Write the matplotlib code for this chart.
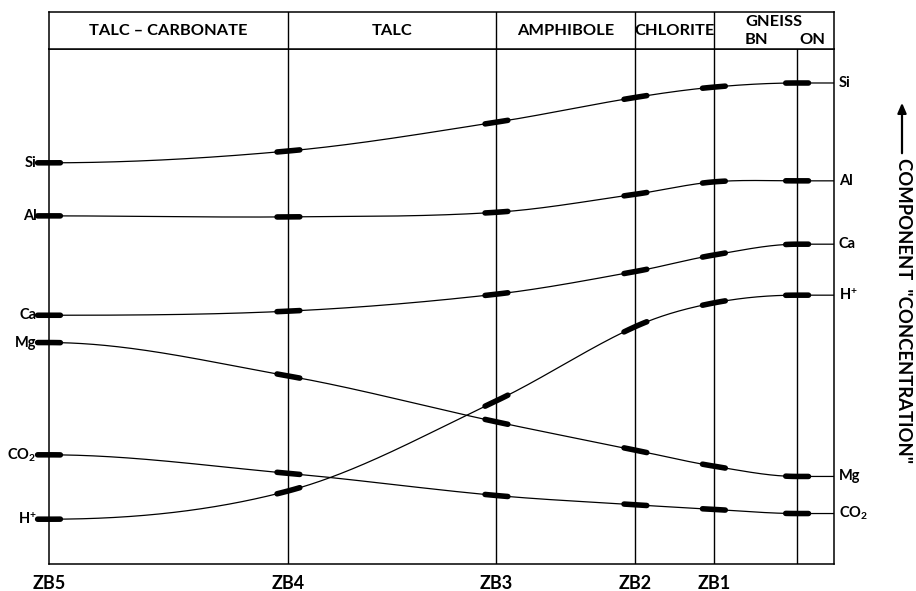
import numpy as np
import matplotlib
matplotlib.use("Agg")
import matplotlib.pyplot as plt

# ---------------- data ----------------
zones = ["ZB5", "ZB4", "ZB3", "ZB2", "ZB1", "ON"]
zone_pos = [0.0, 30.5, 57.0, 74.7, 84.7, 95.3]   # relative distance along profile

components = ["Si", "Al", "Ca", "Mg", "CO2", "H+"]
si = [77.9, 80.2, 85.8, 90.6, 92.6, 93.4]
al = [67.6, 67.4, 68.3, 71.8, 74.2, 74.4]
ca = [48.3, 49.1, 52.4, 56.8, 60.0, 62.1]
mg = [43.0, 36.5, 27.6, 22.1, 19.0, 17.0]
co2 = [21.2, 17.6, 13.3, 11.5, 10.6, 9.8]
hplus = [8.7, 14.2, 31.7, 46.1, 50.7, 52.2]

left_labels = ["Si", "Al", "Ca", "Mg", "CO$_2$", "H$^{+}$"]
right_labels = ["Si", "Al", "Ca", "Mg", "CO$_2$", "H$^{+}$"]

header_zones = ["TALC – CARBONATE", "TALC", "AMPHIBOLE", "CHLORITE"]
gneiss_label = "GNEISS"
gneiss_sub = ["BN", "ON"]
ylabel = "COMPONENT  \"CONCENTRATION\""

series = [si, al, ca, mg, co2, hplus]

# ---------------- helpers ----------------
def make_curve(xs, ys):
    xs = np.asarray(xs, float)
    ys = np.asarray(ys, float)
    n = len(xs)
    m = np.zeros(n)
    for i in range(1, n - 1):
        m[i] = (ys[i + 1] - ys[i - 1]) / (xs[i + 1] - xs[i - 1])

    def f(x):
        x = np.atleast_1d(np.asarray(x, float))
        out = np.empty_like(x)
        for k, xv in enumerate(x):
            if xv <= xs[0]:
                out[k] = ys[0]
                continue
            if xv >= xs[-1]:
                out[k] = ys[-1]
                continue
            i = np.searchsorted(xs, xv) - 1
            h = xs[i + 1] - xs[i]
            t = (xv - xs[i]) / h
            h00 = 2 * t**3 - 3 * t**2 + 1
            h10 = t**3 - 2 * t**2 + t
            h01 = -2 * t**3 + 3 * t**2
            h11 = t**3 - t**2
            out[k] = h00 * ys[i] + h10 * h * m[i] + h01 * ys[i + 1] + h11 * h * m[i + 1]
        return out
    return f

FONT = ["Lato", "DejaVu Sans"]
plt.rcParams["font.family"] = FONT
plt.rcParams["mathtext.fontset"] = "custom"
plt.rcParams["mathtext.rm"] = "Lato:bold"
plt.rcParams["mathtext.it"] = "Lato:bold"
plt.rcParams["mathtext.bf"] = "Lato:bold"

W, H = 916, 591
fig = plt.figure(figsize=(W / 100, H / 100), dpi=100)

xl, xr, yb, yt, yh = 49, 834, 564, 49, 12
ax = fig.add_axes([xl / W, 1 - yb / H, (xr - xl) / W, (yb - yt) / H])
hx = fig.add_axes([xl / W, 1 - yt / H, (xr - xl) / W, (yt - yh) / H])

for a in (ax, hx):
    a.set_xlim(0, 100)
    a.set_xticks([])
    a.set_yticks([])
    for s in a.spines.values():
        s.set_linewidth(1.1)
        s.set_color("black")
ax.set_ylim(0, 100)
hx.set_ylim(0, 1)

LW_V = 1.0
for xp in zone_pos[1:]:
    ax.axvline(xp, color="black", lw=LW_V, zorder=1)
for xp in zone_pos[1:5]:
    hx.axvline(xp, color="black", lw=LW_V)

# curves
h = 1.45
for ys, ll, rl in zip(series, left_labels, right_labels):
    f = make_curve(zone_pos, ys)
    xx = np.linspace(0, 100, 800)
    ax.plot(xx, f(xx), color="black", lw=0.9, zorder=2, solid_capstyle="butt")
    for xp in zone_pos:
        seg = np.linspace(xp - h, xp + h, 30)
        ax.plot(seg, f(seg), color="black", lw=4.0, solid_capstyle="round",
                zorder=3, clip_on=False)
    ax.text(-1.6, ys[0], ll, ha="right", va="center", fontsize=10.5,
            fontweight="bold", clip_on=False)
    ax.text(100.6, ys[-1], rl, ha="left", va="center", fontsize=10.5,
            fontweight="bold", clip_on=False)

# zone labels at bottom
for name, xp in zip(zones[:5], zone_pos[:5]):
    ax.text(xp, -2.2, name, ha="center", va="top", fontsize=13,
            fontweight="bold", clip_on=False)

# header
HFS = 11.8
bounds = zone_pos[:5]
for i, name in enumerate(header_zones):
    xc = (bounds[i] + bounds[i + 1]) / 2
    hx.text(xc, 0.48, name, ha="center", va="center", fontsize=HFS, fontweight="bold")
hx.text((zone_pos[4] + 100) / 2, 0.74, gneiss_label, ha="center", va="center",
        fontsize=HFS, fontweight="bold")
hx.text(90.1, 0.24, gneiss_sub[0], ha="center", va="center", fontsize=HFS, fontweight="bold")
hx.text(97.3, 0.24, gneiss_sub[1], ha="center", va="center", fontsize=HFS, fontweight="bold")

# right side axis label with arrow
fig.add_artist(matplotlib.patches.FancyArrowPatch(
    (902 / W, 1 - 156 / H), (902 / W, 1 - 100 / H), transform=fig.transFigure,
    arrowstyle="-|>,head_length=6,head_width=2.6", color="black", lw=1.6))
fig.text(903 / W, 1 - 158 / H, ylabel, rotation=270, ha="center", va="top",
         fontsize=13.3, fontweight="bold")

fig.savefig("out.png", dpi=100)
